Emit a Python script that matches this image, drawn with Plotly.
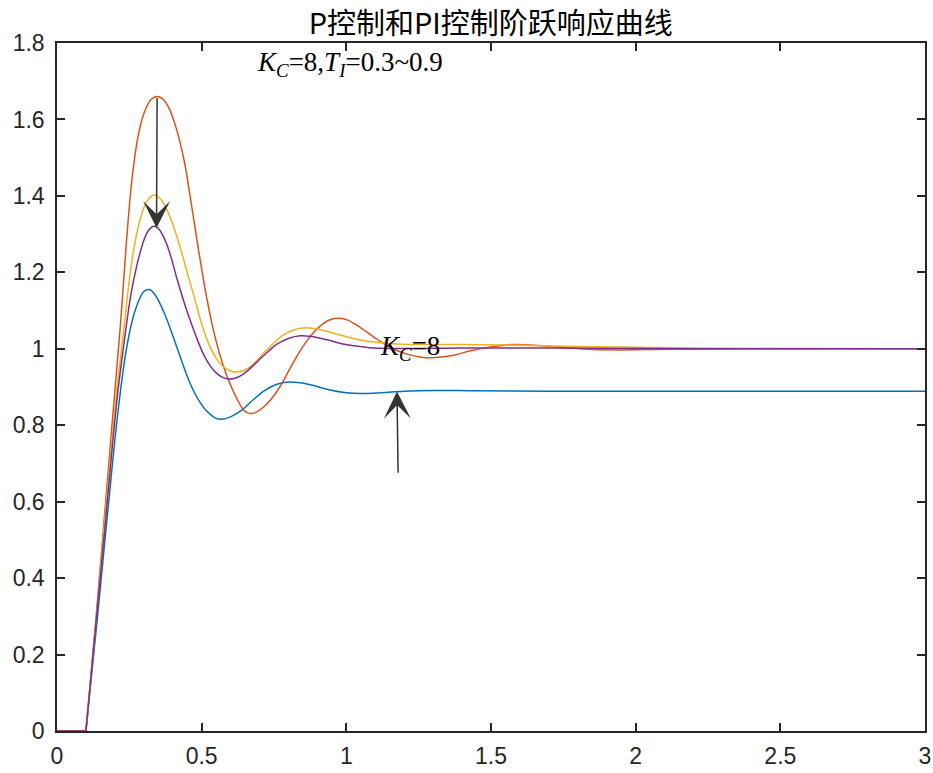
import plotly.graph_objects as go

# ---- data ----
T_DEAD = [0.0, 0.1]
Y_DEAD = [0.0, 0.0]

t_p = [0.10, 0.14, 0.18, 0.21, 0.24, 0.27, 0.30, 0.32, 0.34, 0.37, 0.40, 0.43, 0.46, 0.49, 0.52,
       0.55, 0.575, 0.60, 0.64, 0.68, 0.72, 0.76, 0.80, 0.84, 0.88, 0.94, 1.00, 1.05, 1.12, 1.2,
       1.3, 1.45, 1.7, 2.2, 3.0]
y_p = [0.0, 0.30, 0.61, 0.83, 1.00, 1.10, 1.150, 1.155, 1.14, 1.095, 1.035, 0.97, 0.91, 0.865, 0.835,
       0.818, 0.816, 0.822, 0.84, 0.868, 0.892, 0.907, 0.913, 0.911, 0.905, 0.893, 0.885, 0.883, 0.885,
       0.889, 0.891, 0.890, 0.889, 0.889, 0.889]

t_pi1 = [0.10, 0.13, 0.16, 0.19, 0.22, 0.24, 0.26, 0.28, 0.30, 0.325, 0.347, 0.37, 0.39, 0.414, 0.44,
         0.46, 0.49, 0.517, 0.545, 0.575, 0.60, 0.625, 0.645, 0.665, 0.685, 0.71, 0.74, 0.77, 0.805,
         0.835, 0.863, 0.89, 0.92, 0.95, 0.975, 1.005, 1.05, 1.093, 1.151, 1.209, 1.26, 1.31, 1.37,
         1.43, 1.50, 1.577, 1.65, 1.75, 1.85, 1.95, 2.1, 2.4, 3.0]
y_pi1 = [0.0, 0.25, 0.526, 0.80, 1.07, 1.28, 1.45, 1.555, 1.615, 1.652, 1.660, 1.65, 1.625, 1.572, 1.49,
         1.40, 1.255, 1.135, 1.035, 0.955, 0.905, 0.865, 0.840, 0.831, 0.833, 0.845, 0.868, 0.90, 0.948,
         0.988, 1.02, 1.045, 1.066, 1.078, 1.080, 1.075, 1.055, 1.032, 1.004, 0.986, 0.978, 0.977, 0.983,
         0.995, 1.005, 1.011, 1.009, 1.003, 0.998, 0.997, 0.999, 1.0, 1.0]

t_pi2 = [0.10, 0.13, 0.162, 0.19, 0.21, 0.23, 0.25, 0.27, 0.29, 0.31, 0.335, 0.36, 0.385, 0.405, 0.425,
         0.45, 0.477, 0.50, 0.529, 0.55, 0.575, 0.60, 0.619, 0.645, 0.675, 0.71, 0.748, 0.78, 0.82, 0.863,
         0.91, 0.96, 1.013, 1.08, 1.151, 1.25, 1.4, 1.55, 1.8, 2.2, 2.6, 3.0]
y_pi2 = [0.0, 0.25, 0.526, 0.765, 0.915, 1.045, 1.18, 1.28, 1.345, 1.385, 1.402, 1.39, 1.355, 1.315, 1.267,
         1.20, 1.128, 1.065, 1.005, 0.975, 0.953, 0.942, 0.939, 0.943, 0.958, 0.985, 1.014, 1.035, 1.05, 1.055,
         1.05, 1.04, 1.029, 1.019, 1.014, 1.011, 1.011, 1.010, 1.006, 1.002, 1.0005, 1.0]

t_pi3 = [0.10, 0.13, 0.165, 0.19, 0.21, 0.233, 0.255, 0.275, 0.30, 0.315, 0.331, 0.35, 0.37, 0.39, 0.414,
         0.44, 0.46, 0.488, 0.51, 0.529, 0.55, 0.571, 0.592, 0.615, 0.64, 0.67, 0.70, 0.73, 0.76, 0.80,
         0.84, 0.88, 0.93, 0.98, 1.013, 1.08, 1.151, 1.25, 1.4, 1.7, 2.2, 3.0]
y_pi3 = [0.0, 0.245, 0.526, 0.735, 0.885, 1.023, 1.14, 1.215, 1.283, 1.308, 1.320, 1.315, 1.29, 1.25, 1.185,
         1.12, 1.075, 1.018, 0.98, 0.956, 0.937, 0.926, 0.921, 0.923, 0.932, 0.95, 0.972, 0.993, 1.012, 1.027,
         1.034, 1.032, 1.024, 1.014, 1.009, 1.003, 1.001, 1.001, 1.002, 1.002, 1.0, 1.0]

series = [
    ("P, Kc=8", t_p, y_p, "#0072BD"),
    ("PI, Ti=0.3", t_pi1, y_pi1, "#D95319"),
    ("PI, Ti=0.6", t_pi2, y_pi2, "#EDB120"),
    ("PI, Ti=0.9", t_pi3, y_pi3, "#7E2F8E"),
]

x_ticks = [0, 0.5, 1, 1.5, 2, 2.5, 3]
x_tick_text = ["0", "0.5", "1", "1.5", "2", "2.5", "3"]
y_ticks = [0, 0.2, 0.4, 0.6, 0.8, 1.0, 1.2, 1.4, 1.6, 1.8]
y_tick_text = ["0", "0.2", "0.4", "0.6", "0.8", "1", "1.2", "1.4", "1.6", "1.8"]

TITLE = "P控制和PI控制阶跃响应曲线"
LABEL_PI = "<i>K</i><sub><i>C</i></sub>=8,<i>T</i><sub><i>I</i></sub>=0.3~0.9"
LABEL_P = "<i>K</i><sub><i>C</i></sub>=8"

fig = go.Figure()
for name, t, y, c in series:
    fig.add_trace(go.Scatter(x=T_DEAD, y=Y_DEAD, mode="lines", line=dict(color=c, width=1.5),
                             showlegend=False, hoverinfo="skip"))
    fig.add_trace(go.Scatter(x=t, y=y, mode="lines", name=name,
                             line=dict(color=c, width=1.5, shape="spline", smoothing=1.0),
                             showlegend=False))

axis_common = dict(showgrid=False, zeroline=False, showline=True, linecolor="#262626", linewidth=1.5,
                   mirror="ticks", ticks="inside", ticklen=8, tickwidth=1.5, tickcolor="#262626",
                   automargin=False, ticklabeloverflow="allow",
                   tickfont=dict(family="Liberation Sans, Arial", size=23, color="#262626"))

fig.update_xaxes(range=[0, 3], tickvals=x_ticks, ticktext=x_tick_text, ticklabelstandoff=4, **axis_common)
fig.update_yaxes(range=[0, 1.8], tickvals=y_ticks, ticktext=y_tick_text, ticklabelstandoff=6, **axis_common)

serif = dict(family="Liberation Serif, Times New Roman", size=27, color="black")
fig.add_annotation(x=0.684, y=1.745, xref="x", yref="y", text=LABEL_PI, showarrow=False,
                   xanchor="left", yanchor="middle", font=serif)
fig.add_annotation(x=1.11, y=1.002, xref="x", yref="y", text=LABEL_P, showarrow=False,
                   xanchor="left", yanchor="middle", font=serif)
# arrows
fig.add_annotation(x=0.344, y=1.316, ax=0.346, ay=1.660, xref="x", yref="y", axref="x", ayref="y",
                   text="", showarrow=True, arrowhead=3, arrowsize=3.0, arrowwidth=1.5, arrowcolor="#333333")
fig.add_annotation(x=1.175, y=0.888, ax=1.179, ay=0.672, xref="x", yref="y", axref="x", ayref="y",
                   text="", showarrow=True, arrowhead=3, arrowsize=3.0, arrowwidth=1.5, arrowcolor="#333333")

fig.update_layout(
    width=933, height=773,
    margin=dict(l=57, r=8, t=43, b=42),
    plot_bgcolor="white", paper_bgcolor="white",
    title=dict(text=TITLE, x=0.526, xanchor="center", y=0.969, yanchor="middle",
               font=dict(family="Noto Sans CJK SC", size=29, color="black")),
)

fig.write_html("out.html")
